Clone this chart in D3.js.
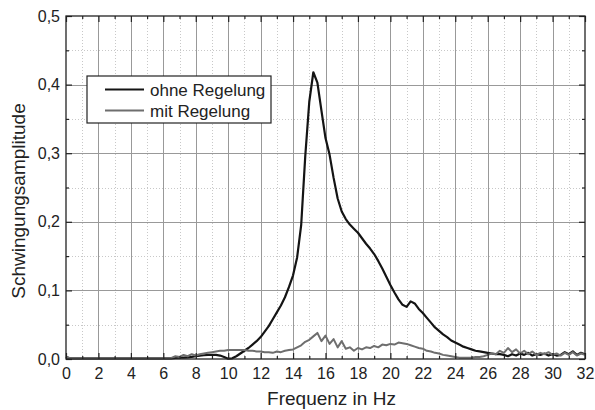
<!DOCTYPE html>
<html>
<head>
<meta charset="utf-8">
<script src="https://cdn.jsdelivr.net/npm/d3@7"></script>
<style>
  body { margin: 0; background: #fff; }
  svg { display: block; font-family: "Liberation Sans", Arial, sans-serif; }
</style>
</head>
<body>
<script>
// frequency steps in Hz (0.25 Hz)
var freq = [
  0, 0.25, 0.5, 0.75, 1, 1.25, 1.5, 1.75, 2, 2.25, 2.5, 2.75, 3, 3.25, 3.5, 3.75,
  4, 4.25, 4.5, 4.75, 5, 5.25, 5.5, 5.75, 6, 6.25, 6.5, 6.75, 7, 7.25, 7.5, 7.75,
  8, 8.25, 8.5, 8.75, 9, 9.25, 9.5, 9.75, 10, 10.25, 10.5, 10.75, 11, 11.25, 11.5, 11.75,
  12, 12.25, 12.5, 12.75, 13, 13.25, 13.5, 13.75, 14, 14.25, 14.5, 14.75, 15, 15.25, 15.5, 15.75,
  16, 16.25, 16.5, 16.75, 17, 17.25, 17.5, 17.75, 18, 18.25, 18.5, 18.75, 19, 19.25, 19.5, 19.75,
  20, 20.25, 20.5, 20.75, 21, 21.25, 21.5, 21.75, 22, 22.25, 22.5, 22.75, 23, 23.25, 23.5, 23.75,
  24, 24.25, 24.5, 24.75, 25, 25.25, 25.5, 25.75, 26, 26.25, 26.5, 26.75, 27, 27.25, 27.5, 27.75,
  28, 28.25, 28.5, 28.75, 29, 29.25, 29.5, 29.75, 30, 30.25, 30.5, 30.75, 31, 31.25, 31.5, 31.75,
  32
];

var ohneRegelung = [
  0.003, 0.001, 0.001, 0.001, 0.001, 0.001, 0.001, 0.001, 0.001, 0.001, 0.001, 0.001, 0.001, 0.001, 0.001, 0.001,
  0.001, 0.001, 0.001, 0.001, 0.001, 0.001, 0.001, 0.001, 0.001, 0.001, 0.001, 0.0015, 0.002, 0.002, 0.0025, 0.003,
  0.004, 0.005, 0.0055, 0.006, 0.0062, 0.006, 0.005, 0.003, 0.0005, 0.001, 0.004, 0.008, 0.012, 0.016, 0.021, 0.026,
  0.032, 0.040, 0.048, 0.058, 0.068, 0.078, 0.090, 0.105, 0.122, 0.148, 0.195, 0.295, 0.375, 0.418, 0.403, 0.362,
  0.322, 0.298, 0.264, 0.234, 0.215, 0.204, 0.196, 0.190, 0.184, 0.176, 0.168, 0.161, 0.153, 0.143, 0.132, 0.120,
  0.108, 0.097, 0.087, 0.079, 0.076, 0.084, 0.081, 0.073, 0.067, 0.060, 0.053, 0.046, 0.041, 0.036, 0.032, 0.027,
  0.024, 0.021, 0.018, 0.016, 0.014, 0.012, 0.011, 0.010, 0.009, 0.008, 0.007, 0.007, 0.006, 0.004, 0.007, 0.005,
  0.008, 0.006, 0.009, 0.005, 0.007, 0.006, 0.008, 0.005, 0.007, 0.005, 0.006, 0.010, 0.007, 0.011, 0.006, 0.009,
  0.007
];

var mitRegelung = [
  0.003, 0.001, 0.001, 0.001, 0.001, 0.001, 0.001, 0.001, 0.001, 0.001, 0.001, 0.001, 0.001, 0.001, 0.001, 0.001,
  0.001, 0.001, 0.001, 0.001, 0.001, 0.001, 0.001, 0.001, 0.001, 0.001, 0.0015, 0.004, 0.003, 0.006, 0.004, 0.007,
  0.005, 0.007, 0.008, 0.009, 0.010, 0.011, 0.012, 0.012, 0.013, 0.013, 0.013, 0.013, 0.013, 0.012, 0.012, 0.011,
  0.011, 0.010, 0.010, 0.009, 0.011, 0.010, 0.012, 0.013, 0.014, 0.017, 0.020, 0.025, 0.028, 0.033, 0.038, 0.026,
  0.034, 0.022, 0.029, 0.017, 0.026, 0.015, 0.017, 0.012, 0.016, 0.014, 0.017, 0.016, 0.019, 0.017, 0.021, 0.020,
  0.022, 0.021, 0.024, 0.023, 0.022, 0.020, 0.018, 0.016, 0.015, 0.012, 0.011, 0.009, 0.008, 0.006, 0.005, 0.004,
  0.003, 0.002, 0.002, 0.002, 0.002, 0.003, 0.003, 0.004, 0.006, 0.008, 0.007, 0.012, 0.009, 0.016, 0.010, 0.014,
  0.008, 0.012, 0.007, 0.011, 0.006, 0.009, 0.007, 0.010, 0.006, 0.008, 0.005, 0.009, 0.006, 0.010, 0.005, 0.008,
  0.006
];

var xTicks = [0, 2, 4, 6, 8, 10, 12, 14, 16, 18, 20, 22, 24, 26, 28, 30, 32];
var xMinor = [1, 3, 5, 7, 9, 11, 13, 15, 17, 19, 21, 23, 25, 27, 29, 31];
var yTicks = [0, 0.1, 0.2, 0.3, 0.4, 0.5];
var yMinor = [0.05, 0.15, 0.25, 0.35, 0.45];
var seriesNames = ["ohne Regelung", "mit Regelung"];
var seriesColors = ["#141414", "#6e6e6e"];

var w = 595, h = 410;
var pLeft = 66, pRight = 585, pTop = 16, pBottom = 359;

var svg = d3.select("body").append("svg")
  .attr("width", w)
  .attr("height", h);

var x = d3.scaleLinear().domain([0, 32]).range([pLeft, pRight]);
var y = d3.scaleLinear().domain([0, 0.5]).range([pBottom, pTop]);

function px(v) { return Math.round(v) + 0.5; }

// minor grid (dotted)
svg.append("g").selectAll("line").data(xMinor).enter().append("line")
  .attr("x1", function(d) { return px(x(d)); })
  .attr("x2", function(d) { return px(x(d)); })
  .attr("y1", pTop).attr("y2", pBottom)
  .attr("stroke", "#c8c8c8").attr("stroke-dasharray", "1,2");
svg.append("g").selectAll("line").data(yMinor).enter().append("line")
  .attr("y1", function(d) { return px(y(d)); })
  .attr("y2", function(d) { return px(y(d)); })
  .attr("x1", pLeft).attr("x2", pRight)
  .attr("stroke", "#c8c8c8").attr("stroke-dasharray", "1,2");

// major grid
svg.append("g").selectAll("line").data(xTicks.slice(1, -1)).enter().append("line")
  .attr("x1", function(d) { return px(x(d)); })
  .attr("x2", function(d) { return px(x(d)); })
  .attr("y1", pTop).attr("y2", pBottom)
  .attr("stroke", "#999");
svg.append("g").selectAll("line").data(yTicks.slice(1, -1)).enter().append("line")
  .attr("y1", function(d) { return px(y(d)); })
  .attr("y2", function(d) { return px(y(d)); })
  .attr("x1", pLeft).attr("x2", pRight)
  .attr("stroke", "#999");

// curves
var line = d3.line()
  .x(function(d) { return x(d[0]); })
  .y(function(d) { return y(d[1]); });

[ohneRegelung, mitRegelung].forEach(function(vals, i) {
  svg.append("path")
    .datum(freq.map(function(f, j) { return [f, vals[j]]; }))
    .attr("d", line)
    .attr("fill", "none")
    .attr("stroke", seriesColors[i])
    .attr("stroke-width", i === 0 ? 2.2 : 2)
    .attr("stroke-linejoin", "round");
});

// axes with inward ticks
var fmt = function(d) { return d3.format(".1f")(d).replace(".", ","); };
svg.append("g").attr("transform", "translate(0," + pBottom + ")")
  .call(d3.axisBottom(x).tickValues(xTicks).tickSize(-6).tickPadding(9).tickFormat(d3.format("d")));
svg.append("g").attr("transform", "translate(0," + pTop + ")")
  .call(d3.axisTop(x).tickValues(xTicks).tickSize(-6).tickFormat(""));
svg.append("g").attr("transform", "translate(" + pLeft + ",0)")
  .call(d3.axisLeft(y).tickValues(yTicks).tickSize(-6).tickPadding(6).tickFormat(fmt));
svg.append("g").attr("transform", "translate(" + pRight + ",0)")
  .call(d3.axisRight(y).tickValues(yTicks).tickSize(-6).tickFormat(""));

svg.append("g").attr("transform", "translate(0," + pBottom + ")")
  .call(d3.axisBottom(x).tickValues(xMinor).tickSize(-3).tickFormat(""));
svg.append("g").attr("transform", "translate(0," + pTop + ")")
  .call(d3.axisTop(x).tickValues(xMinor).tickSize(-3).tickFormat(""));
svg.append("g").attr("transform", "translate(" + pLeft + ",0)")
  .call(d3.axisLeft(y).tickValues(yMinor).tickSize(-3).tickFormat(""));
svg.append("g").attr("transform", "translate(" + pRight + ",0)")
  .call(d3.axisRight(y).tickValues(yMinor).tickSize(-3).tickFormat(""));

svg.selectAll(".domain").remove();
svg.selectAll(".tick line").attr("stroke", "#222").attr("stroke-width", 1.2);
svg.selectAll(".tick text").attr("fill", "#222").style("font-size", "16px");

// frame
svg.append("rect")
  .attr("x", pLeft).attr("y", pTop)
  .attr("width", pRight - pLeft).attr("height", pBottom - pTop)
  .attr("fill", "none").attr("stroke", "#222").attr("stroke-width", 1.3);

// legend
var lg = svg.append("g").attr("transform", "translate(87,76)");
lg.append("rect").attr("width", 184).attr("height", 47)
  .attr("fill", "#fff").attr("stroke", "#222").attr("stroke-width", 1.2);
seriesNames.forEach(function(name, i) {
  var ly = 13.5 + i * 21;
  lg.append("line").attr("x1", 18).attr("x2", 57).attr("y1", ly).attr("y2", ly)
    .attr("stroke", seriesColors[i]).attr("stroke-width", 2);
  lg.append("text").attr("x", 63).attr("y", ly + 6).text(name)
    .attr("fill", "#222").style("font-size", "17px");
});

// axis titles
svg.append("text")
  .attr("x", (pLeft + pRight) / 2 + 6).attr("y", 405)
  .attr("text-anchor", "middle")
  .attr("fill", "#222").style("font-size", "19px")
  .text("Frequenz in Hz");
svg.append("text")
  .attr("transform", "translate(25,201) rotate(-90)")
  .attr("text-anchor", "middle")
  .attr("fill", "#222").style("font-size", "19px")
  .text("Schwingungsamplitude");
</script>
</body>
</html>
